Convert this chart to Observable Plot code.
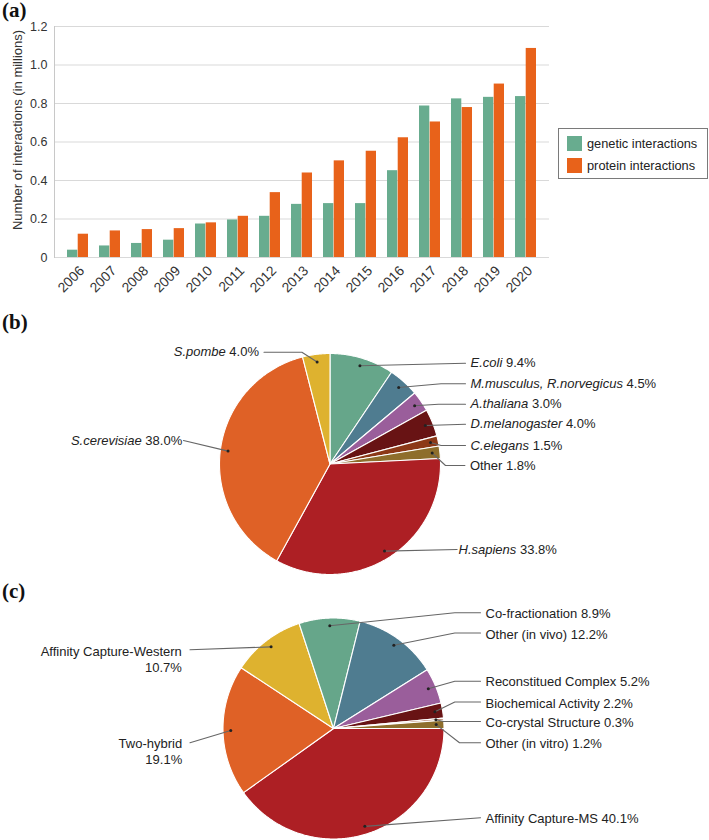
<!DOCTYPE html>
<html>
<head>
<meta charset="utf-8">
<script src="https://cdn.jsdelivr.net/npm/d3@7"></script>
<script src="https://cdn.jsdelivr.net/npm/@observablehq/plot@0.6"></script>
<style>
  html, body { margin: 0; padding: 0; background: #fff; }
  #fig { position: relative; width: 709px; height: 840px; overflow: hidden; font-family: "Liberation Sans", Arial, sans-serif; }
  #fig svg { position: absolute; left: 0; overflow: visible; }
  .panel { position: absolute; left: 2px; font-family: "Liberation Serif", "Times New Roman", serif; font-weight: bold; font-size: 21px; line-height: 21px; color: #111; }
  .legend { position: absolute; left: 558px; top: 128px; width: 148px; height: 49px; border: 1px solid #7a7a7a; box-sizing: content-box; }
  .legend .item { position: absolute; left: 8px; height: 16px; display: flex; align-items: center; font-size: 12.8px; color: #222; white-space: nowrap; }
  .legend .sw { width: 15px; height: 15px; margin-right: 5px; }
</style>
</head>
<body>
<div id="fig"></div>
<script>
// ---------- data: panel (a) ----------
const years = ["2006","2007","2008","2009","2010","2011","2012","2013","2014","2015","2016","2017","2018","2019","2020"];
const geneticM = [0.038,0.060,0.073,0.090,0.174,0.195,0.214,0.276,0.280,0.280,0.451,0.787,0.824,0.832,0.836];
const proteinM = [0.121,0.138,0.145,0.150,0.180,0.214,0.337,0.439,0.502,0.552,0.622,0.704,0.779,0.901,1.086];
const yTicks = [0, 0.2, 0.4, 0.6, 0.8, 1.0, 1.2];
const seriesNames = ["genetic interactions", "protein interactions"];
const yLabel = "Number of interactions (in millions)";

// ---------- data: panel (b) ----------
const organisms = ["E.coli","M.musculus, R.norvegicus","A.thaliana","D.melanogaster","C.elegans","Other","H.sapiens","S.cerevisiae","S.pombe"];
const organismShare = [9.4, 4.5, 3.0, 4.0, 1.5, 1.8, 33.8, 38.0, 4.0];

// ---------- data: panel (c) ----------
const methods = ["Affinity Capture-MS","Two-hybrid","Affinity Capture-Western","Co-fractionation","Other (in vivo)","Reconstitued Complex","Biochemical Activity","Co-crystal Structure","Other (in vitro)"];
const methodShare = [40.1, 19.1, 10.7, 8.9, 12.2, 5.2, 2.2, 0.3, 1.2];

// ---------- styles ----------
const seriesColors = ["#68ac8f", "#e8621a"];
const organismColors = ["#66a68a","#4f7c90","#9a5e9b","#681314","#8c3817","#8e6e2c","#ad1f24","#df6126","#deb22f"];
const methodColors = ["#ad1f24","#df6126","#deb22f","#66a68a","#4f7c90","#9a5e9b","#681314","#8c3817","#8e6e2c"];

// ---------- layout ----------
const W = 709;
const barFrame = {top: 26, bottom: 257, left: 54, right: 549, height: 300};
const padIn = 0.345, padOut = 0.244;

const pieBLayout = {top: 300, height: 285, cx: 329.5, cy: 463.5, r: 110.5, start: 0,
  labels: [
    {tx: 470, ty: 362.7, anchor: "start"},
    {tx: 470, ty: 383.3, anchor: "start", elbow: 440.6},
    {tx: 470, ty: 403.7, anchor: "start", elbow: 438},
    {tx: 470, ty: 423.7, anchor: "start"},
    {tx: 470, ty: 445, anchor: "start", elbow: 440.6},
    {tx: 469.4, ty: 465, anchor: "start", elbow: 445},
    {tx: 458, ty: 549, anchor: "start", lx: 456.6},
    {tx: 181.7, ty: 440, anchor: "end", lx: 183},
    {tx: 258.5, ty: 351.7, anchor: "end", lx: 263.5, elbow: 301.4}
  ]};

const pieCLayout = {top: 585, height: 255, cx: 333, cy: 728, r: 110.5, start: Math.PI / 2,
  labels: [
    {tx: 485, ty: 817.3, anchor: "start"},
    {tx: 181.7, ty: 742.3, anchor: "end", lx: 189.5, wrap: true},
    {tx: 181.3, ty: 650.3, anchor: "end", lx: 189.5, ly: 649.3, wrap: true},
    {tx: 485, ty: 612.3, anchor: "start", elbow: 454.3},
    {tx: 485, ty: 633.7, anchor: "start", elbow: 454.3, ly: 632.5},
    {tx: 485, ty: 680.7, anchor: "start", elbow: 454.3},
    {tx: 485, ty: 702, anchor: "start", elbow: 454.3, ly: 701.5},
    {tx: 485, ty: 721, anchor: "start", elbow: 443},
    {tx: 485, ty: 742.3, anchor: "start", elbow: 459}
  ]};

const FONT = "'Liberation Sans', Arial, sans-serif";
const fig = document.getElementById("fig");

function panelLabel(text, top) {
  const d = document.createElement("div");
  d.className = "panel";
  d.style.top = top + "px";
  d.textContent = text;
  fig.appendChild(d);
}

// ---------- panel (a): grouped bars ----------
const rows = years.map((y, i) => ({year: y, genetic: geneticM[i], protein: proteinM[i]}));
const step = (barFrame.right - barFrame.left) / (years.length - padIn + 2 * padOut);
const half = step * (1 - padIn) / 2;

const bar = Plot.plot({
  width: W,
  height: barFrame.height,
  marginTop: barFrame.top,
  marginBottom: barFrame.height - barFrame.bottom,
  marginLeft: barFrame.left,
  marginRight: W - barFrame.right,
  style: {fontFamily: FONT, fontSize: "12.8px", color: "#333", background: "transparent"},
  x: {domain: years, paddingInner: padIn, paddingOuter: padOut, axis: null},
  y: {domain: [0, 1.2], axis: null},
  marks: [
    Plot.gridY(yTicks, {stroke: "#d9d9d9", strokeOpacity: 1, strokeWidth: 1}),
    Plot.frame({anchor: "left", stroke: "#c8c8c8"}),
    Plot.barY(rows, {x: "year", y: "genetic", fill: seriesColors[0], insetRight: half}),
    Plot.barY(rows, {x: "year", y: "protein", fill: seriesColors[1], insetLeft: half}),
    Plot.axisY(yTicks, {tickSize: 0, tickPadding: 7, fontSize: 12.5, tickFormat: d => d === 0 ? "0" : d.toFixed(1), label: null}),
    Plot.axisX({tickSize: 0, tickRotate: -45, tickPadding: 11, dx: 4, fontSize: 13.8, label: null}),
    Plot.text([yLabel], {frameAnchor: "left", rotate: -90, dx: -37, dy: -12, textAnchor: "middle", lineAnchor: "middle", fontSize: 13, fill: "#333"})
  ]
});
bar.style.top = "0px";
fig.appendChild(bar);

// legend for (a)
const leg = document.createElement("div");
leg.className = "legend";
seriesNames.forEach((name, i) => {
  const it = document.createElement("div");
  it.className = "item";
  it.style.top = (6 + i * 22.5) + "px";
  const sw = document.createElement("span");
  sw.className = "sw";
  sw.style.background = seriesColors[i];
  it.appendChild(sw);
  it.appendChild(document.createTextNode(name));
  leg.appendChild(it);
});
fig.appendChild(leg);

// ---------- pies ----------
const ctx = document.createElement("canvas").getContext("2d");
function tw(s, style) {
  ctx.font = `${style} 13px "Liberation Sans"`;
  return ctx.measureText(s).width;
}
const pct = v => v.toFixed(1) + "%";

function makePie(names, shares, colors, L, mode) {
  const arcs = d3.pie().sort(null).value(d => d).startAngle(L.start).endAngle(L.start + 2 * Math.PI)(shares);
  const poly = [];
  arcs.forEach((a, i) => {
    poly.push({k: names[i], c: colors[i], x: L.cx, y: L.cy});
    const n = Math.max(2, Math.ceil((a.endAngle - a.startAngle) / (Math.PI / 360)));
    for (let j = 0; j <= n; j++) {
      const t = a.startAngle + (a.endAngle - a.startAngle) * j / n;
      poly.push({k: names[i], c: colors[i], x: L.cx + L.r * Math.sin(t), y: L.cy - L.r * Math.cos(t)});
    }
  });
  const dots = arcs.map((a, i) => {
    const m = (a.startAngle + a.endAngle) / 2;
    return {k: names[i], x: L.cx + 0.93 * L.r * Math.sin(m), y: L.cy - 0.93 * L.r * Math.cos(m)};
  });
  const leaders = [];
  L.labels.forEach((lab, i) => {
    const ly = lab.ly ?? lab.ty;
    const lx = lab.lx ?? (lab.anchor === "start" ? lab.tx - 5 : lab.tx + 5);
    leaders.push({k: names[i], x: dots[i].x, y: dots[i].y});
    if (lab.elbow != null) leaders.push({k: names[i], x: lab.elbow, y: ly});
    leaders.push({k: names[i], x: lx, y: ly});
  });

  const textMarks = [];
  if (mode === "organism") {
    const nameRows = [], pctRows = [];
    names.forEach((nm, i) => {
      const lab = L.labels[i];
      const italic = nm !== "Other";
      const p = pct(shares[i]);
      if (lab.anchor === "start") {
        nameRows.push({t: nm, x: lab.tx, y: lab.ty, italic});
        pctRows.push({t: p, x: lab.tx + tw(nm, italic ? "italic" : "normal") + tw(" ", "normal"), y: lab.ty});
      } else {
        pctRows.push({t: p, x: lab.tx, y: lab.ty, end: true});
        nameRows.push({t: nm, x: lab.tx - tw(" " + p, "normal"), y: lab.ty, italic, end: true});
      }
    });
    const common = {x: "x", y: "y", text: "t", fill: "#222", lineAnchor: "middle", fontSize: 13};
    for (const end of [false, true]) {
      const ta = end ? "end" : "start";
      textMarks.push(Plot.text(nameRows.filter(d => d.italic && !!d.end === end), {...common, textAnchor: ta, fontStyle: "italic"}));
      textMarks.push(Plot.text(nameRows.filter(d => !d.italic && !!d.end === end), {...common, textAnchor: ta}));
      textMarks.push(Plot.text(pctRows.filter(d => !!d.end === end), {...common, textAnchor: ta}));
    }
  } else {
    const lh = 1.23;
    const labRows = names.map((nm, i) => {
      const lab = L.labels[i];
      const t = lab.wrap ? nm + "\n" + pct(shares[i]) : nm + " " + pct(shares[i]);
      const lines = lab.wrap ? 2 : 1;
      return {t, x: lab.tx, y: lab.ty + (lines - 1) * lh * 13 / 2, end: lab.anchor === "end"};
    });
    for (const end of [false, true]) {
      textMarks.push(Plot.text(labRows.filter(d => d.end === end), {
        x: "x", y: "y", text: "t", fill: "#222", lineAnchor: "middle", lineHeight: lh,
        fontSize: 13, textAnchor: end ? "end" : "start"
      }));
    }
  }

  const svg = Plot.plot({
    width: W,
    height: L.height,
    margin: 0,
    style: {fontFamily: FONT, fontSize: "13px", background: "transparent"},
    x: {domain: [0, W], range: [0, W], axis: null},
    y: {domain: [L.top, L.top + L.height], range: [0, L.height], axis: null},
    color: {type: "identity"},
    marks: [
      Plot.line(poly, {x: "x", y: "y", z: "k", fill: "c", stroke: "#ffffff", strokeWidth: 1.1, curve: "linear-closed"}),
      Plot.line(leaders, {x: "x", y: "y", z: "k", stroke: "#666", strokeWidth: 1.1}),
      Plot.dot(dots, {x: "x", y: "y", r: 1.5, fill: "#222", stroke: null}),
      ...textMarks
    ]
  });
  svg.style.top = L.top + "px";
  fig.appendChild(svg);
}

makePie(organisms, organismShare, organismColors, pieBLayout, "organism");
makePie(methods, methodShare, methodColors, pieCLayout, "method");

panelLabel("(a)", 0);
panelLabel("(b)", 311.5);
panelLabel("(c)", 580.5);
</script>
</body>
</html>
